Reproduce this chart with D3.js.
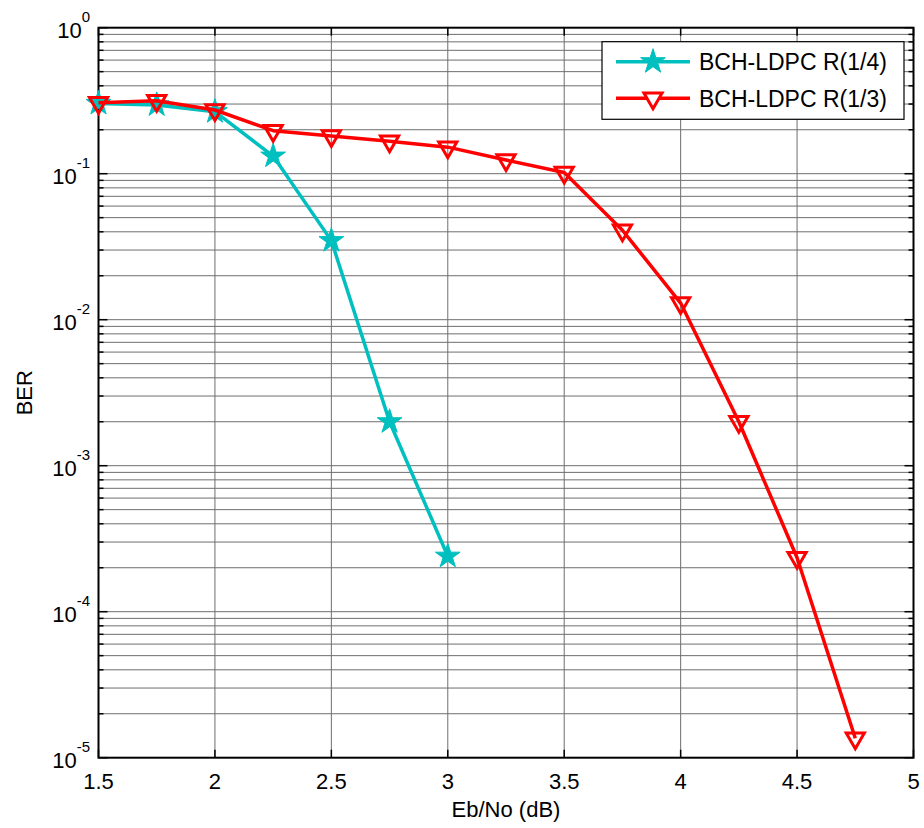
<!DOCTYPE html>
<html>
<head>
<meta charset="utf-8">
<script src="https://cdn.jsdelivr.net/npm/d3@7"></script>
<style>
  html, body { margin: 0; padding: 0; background: #fff; }
  svg { display: block; font-family: "Liberation Sans", Arial, sans-serif; }
</style>
</head>
<body>
<svg id="chart" width="924" height="828"></svg>
<script>
// ---- data ----
const ebnoR14 = [1.5, 1.75, 2, 2.25, 2.5, 2.75, 3];
const berR14  = [0.303, 0.296, 0.266, 0.132, 0.0348, 0.0020, 0.00024];
const ebnoR13 = [1.5, 1.75, 2, 2.25, 2.5, 2.75, 3, 3.25, 3.5, 3.75, 4, 4.25, 4.5, 4.75];
const berR13  = [0.306, 0.316, 0.273, 0.197, 0.181, 0.167, 0.152, 0.124, 0.102, 0.041, 0.0130, 0.0020, 0.000234, 0.0000136];
const seriesNames = ["BCH-LDPC R(1/4)", "BCH-LDPC R(1/3)"];
const xTickValues = [1.5, 2, 2.5, 3, 3.5, 4, 4.5, 5];
const xTickLabels = ["1.5", "2", "2.5", "3", "3.5", "4", "4.5", "5"];
const yDecades = [0, -1, -2, -3, -4, -5];
const xLabel = "Eb/No (dB)";
const yLabel = "BER";

// ---- layout ----
const L = 98.5, R = 913.5, T = 27.7, B = 757.7;
const svg = d3.select("#chart");
const x = d3.scaleLinear().domain([1.5, 5]).range([L, R]);
const y = d3.scaleLog().domain([1e-5, 1]).range([B, T]);

// grid
const grid = svg.append("g").attr("stroke", "#6e6e6e").attr("stroke-width", 1).attr("fill", "none");
xTickValues.slice(1, -1).forEach(v => {
  grid.append("line").attr("x1", x(v)).attr("x2", x(v)).attr("y1", T).attr("y2", B);
});
const yAll = [];
for (let e = -5; e < 0; e++) for (let k = 1; k <= 9; k++) yAll.push(k * Math.pow(10, e));
yAll.forEach(v => {
  if (v <= 1e-5 * 1.0001) return;
  grid.append("line").attr("x1", L).attr("x2", R).attr("y1", y(v)).attr("y2", y(v));
});

// ticks
const ticks = svg.append("g").attr("stroke", "#000").attr("stroke-width", 1.5);
xTickValues.forEach(v => {
  ticks.append("line").attr("x1", x(v)).attr("x2", x(v)).attr("y1", B).attr("y2", B - 8);
  ticks.append("line").attr("x1", x(v)).attr("x2", x(v)).attr("y1", T).attr("y2", T + 8);
});
yAll.concat([1]).forEach(v => {
  const major = Math.abs(Math.log10(v) - Math.round(Math.log10(v))) < 1e-6;
  const len = major ? 9 : 5;
  ticks.append("line").attr("x1", L).attr("x2", L + len).attr("y1", y(v)).attr("y2", y(v));
  ticks.append("line").attr("x1", R).attr("x2", R - len).attr("y1", y(v)).attr("y2", y(v));
});

// axes box
svg.append("rect").attr("x", L).attr("y", T).attr("width", R - L).attr("height", B - T)
  .attr("fill", "none").attr("stroke", "#000").attr("stroke-width", 2);

// x tick labels
xTickValues.forEach((v, i) => {
  svg.append("text").attr("x", x(v)).attr("y", 789).attr("text-anchor", "middle")
    .attr("font-size", 22).attr("fill", "#000").text(xTickLabels[i]);
});
// y tick labels
yDecades.forEach(e => {
  const t = svg.append("text").attr("x", 90).attr("y", y(Math.pow(10, e)) + 10)
    .attr("text-anchor", "end").attr("fill", "#000").attr("font-size", 22);
  t.append("tspan").text("10");
  t.append("tspan").attr("dy", -16).attr("font-size", 15).text(String(e));
});

// axis titles
svg.append("text").attr("x", (L + R) / 2).attr("y", 817).attr("text-anchor", "middle")
  .attr("font-size", 22).attr("fill", "#000").text(xLabel);
svg.append("text").attr("transform", `translate(32,${(T + B) / 2}) rotate(-90)`)
  .attr("text-anchor", "middle").attr("font-size", 22).attr("fill", "#000").text(yLabel);

// markers
const starPath = (() => {
  const ro = 13, ri = 13 * 0.382;
  const pts = [];
  for (let i = 0; i < 10; i++) {
    const r = i % 2 === 0 ? ro : ri;
    const a = -Math.PI / 2 + i * Math.PI / 5;
    pts.push([r * Math.cos(a), r * Math.sin(a)]);
  }
  return "M" + pts.map(p => p.join(",")).join("L") + "Z";
})();
const triPath = (() => {
  const r = 10.5;
  return `M0,${r}L${-r * Math.sqrt(3) / 2},${-r / 2}L${r * Math.sqrt(3) / 2},${-r / 2}Z`;
})();

const cyan = "#00BFBF", red = "#FF0000";
const line = d3.line().x(d => x(d[0])).y(d => y(d[1]));
const d14 = ebnoR14.map((v, i) => [v, berR14[i]]);
const d13 = ebnoR13.map((v, i) => [v, berR13[i]]);

const plot = svg.append("g");
plot.append("path").datum(d14).attr("d", line).attr("fill", "none").attr("stroke", cyan).attr("stroke-width", 3.5).attr("stroke-linejoin", "round");
plot.selectAll(".s14").data(d14).enter().append("path")
  .attr("transform", d => `translate(${x(d[0])},${y(d[1])})`)
  .attr("d", starPath).attr("fill", cyan).attr("stroke", cyan).attr("stroke-width", 1);
plot.append("path").datum(d13).attr("d", line).attr("fill", "none").attr("stroke", red).attr("stroke-width", 3.5).attr("stroke-linejoin", "round");
plot.selectAll(".s13").data(d13).enter().append("path")
  .attr("transform", d => `translate(${x(d[0])},${y(d[1])})`)
  .attr("d", triPath).attr("fill", "none").attr("stroke", red).attr("stroke-width", 3);

// legend
const lg = svg.append("g");
lg.append("rect").attr("x", 602).attr("y", 41.7).attr("width", 302).attr("height", 77.6)
  .attr("fill", "#fff").attr("stroke", "#000").attr("stroke-width", 1.2);
const ly = [61.7, 98.3];
[[cyan, starPath, true], [red, triPath, false]].forEach((s, i) => {
  lg.append("line").attr("x1", 616).attr("x2", 690).attr("y1", ly[i]).attr("y2", ly[i])
    .attr("stroke", s[0]).attr("stroke-width", 3.5);
  lg.append("path").attr("transform", `translate(653,${ly[i]})`).attr("d", s[1])
    .attr("fill", s[2] ? s[0] : "#fff").attr("stroke", s[0]).attr("stroke-width", s[2] ? 1 : 3);
  lg.append("text").attr("x", 699).attr("y", ly[i] + 8.3).attr("font-size", 23).attr("fill", "#000")
    .text(seriesNames[i]);
});
</script>
</body>
</html>
